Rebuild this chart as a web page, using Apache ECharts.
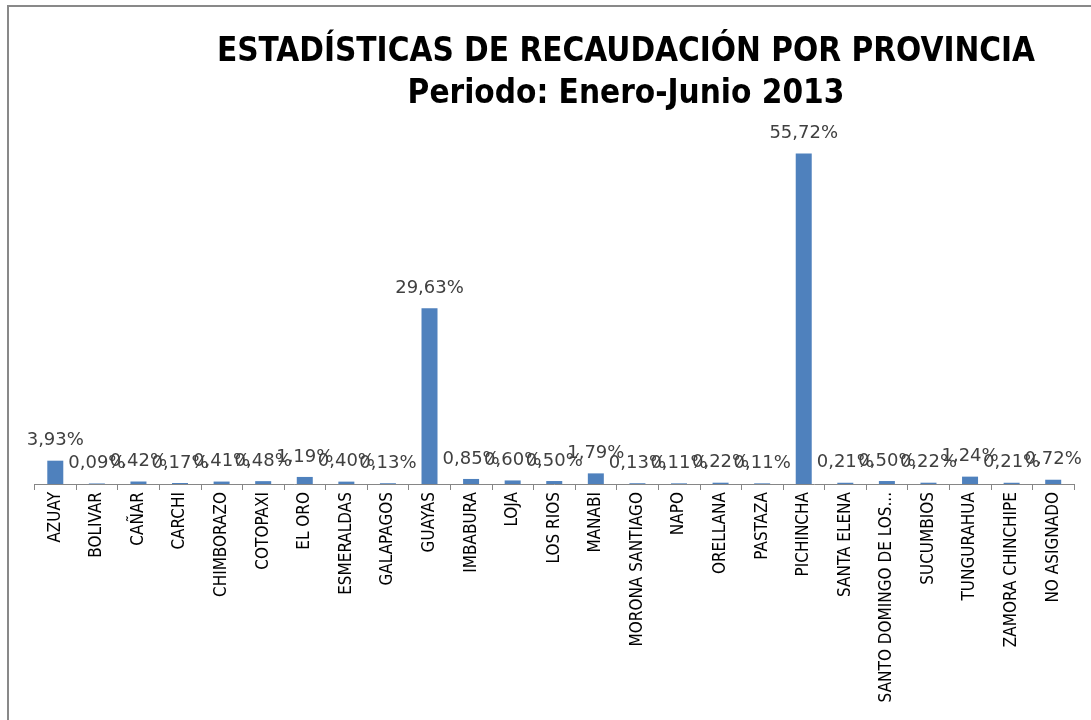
<!DOCTYPE html>
<html>
<head>
<meta charset="utf-8">
<script src="https://cdn.jsdelivr.net/npm/echarts@6/dist/echarts.min.js"></script>
<style>
  html, body { margin: 0; padding: 0; background: #fff; }
  #chart { width: 1091px; height: 720px; }
</style>
</head>
<body>
<div id="chart"></div>
<script>
const titleLines = ["ESTADÍSTICAS DE RECAUDACIÓN POR PROVINCIA", "Periodo: Enero-Junio 2013"]

const provinces = [
  "AZUAY", "BOLIVAR", "CAÑAR", "CARCHI", "CHIMBORAZO", "COTOPAXI", "EL ORO",
  "ESMERALDAS", "GALAPAGOS", "GUAYAS", "IMBABURA", "LOJA", "LOS RIOS", "MANABI",
  "MORONA SANTIAGO", "NAPO", "ORELLANA", "PASTAZA", "PICHINCHA", "SANTA ELENA",
  "SANTO DOMINGO DE LOS...", "SUCUMBIOS", "TUNGURAHUA", "ZAMORA CHINCHIPE", "NO ASIGNADO"
]

// porcentaje de recaudación
const shares = [
  3.93, 0.09, 0.42, 0.17, 0.41, 0.48, 1.19,
  0.40, 0.13, 29.63, 0.85, 0.60, 0.50, 1.79,
  0.13, 0.11, 0.22, 0.11, 55.72, 0.21,
  0.50, 0.22, 1.24, 0.21, 0.72
]

const chart = echarts.init(document.getElementById("chart"))

const narrow = "'Liberation Sans Narrow', 'DejaVu Sans Condensed', 'Liberation Sans', sans-serif"

chart.setOption({
  animation: false,
  backgroundColor: "#fff",
  graphic: [
    {
      type: "rect",
      shape: { x: 8, y: 6, width: 1200, height: 800 },
      style: { fill: "none", stroke: "#898989", lineWidth: 2 },
    },
  ],
  title: {
    text: titleLines.join("\n"),
    left: 621,
    top: 26,
    textAlign: "center",
    textStyle: {
      fontFamily: narrow,
      fontWeight: "bold",
      fontSize: 33,
      lineHeight: 42,
      color: "#000",
    },
  },
  grid: {
    left: 34.5,
    right: 17,
    top: 128,
    bottom: 236,
    containLabel: false,
    outerBoundsMode: "none",
  },
  xAxis: {
    type: "category",
    data: provinces,
    axisLine: { lineStyle: { color: "#868686", width: 1 } },
    axisTick: { show: true, length: 6, interval: 0, lineStyle: { color: "#868686" } },
    axisLabel: {
      interval: 0,
      rotate: 90,
      margin: 8,
      color: "#000",
      fontFamily: narrow,
      fontSize: 17,
    },
    splitLine: { show: false },
  },
  yAxis: {
    type: "value",
    min: 0,
    max: 60,
    show: false,
  },
  series: [
    {
      type: "bar",
      data: shares,
      barWidth: 16,
      itemStyle: { color: "#4F81BD" },
      label: {
        show: true,
        position: "top",
        distance: 11,
        color: "#404040",
        fontFamily: "'DejaVu Sans', sans-serif",
        fontSize: 18,
        formatter: (p) => p.value.toFixed(2).replace(".", ",") + "%",
      },
    },
  ],
})
</script>
</body>
</html>
